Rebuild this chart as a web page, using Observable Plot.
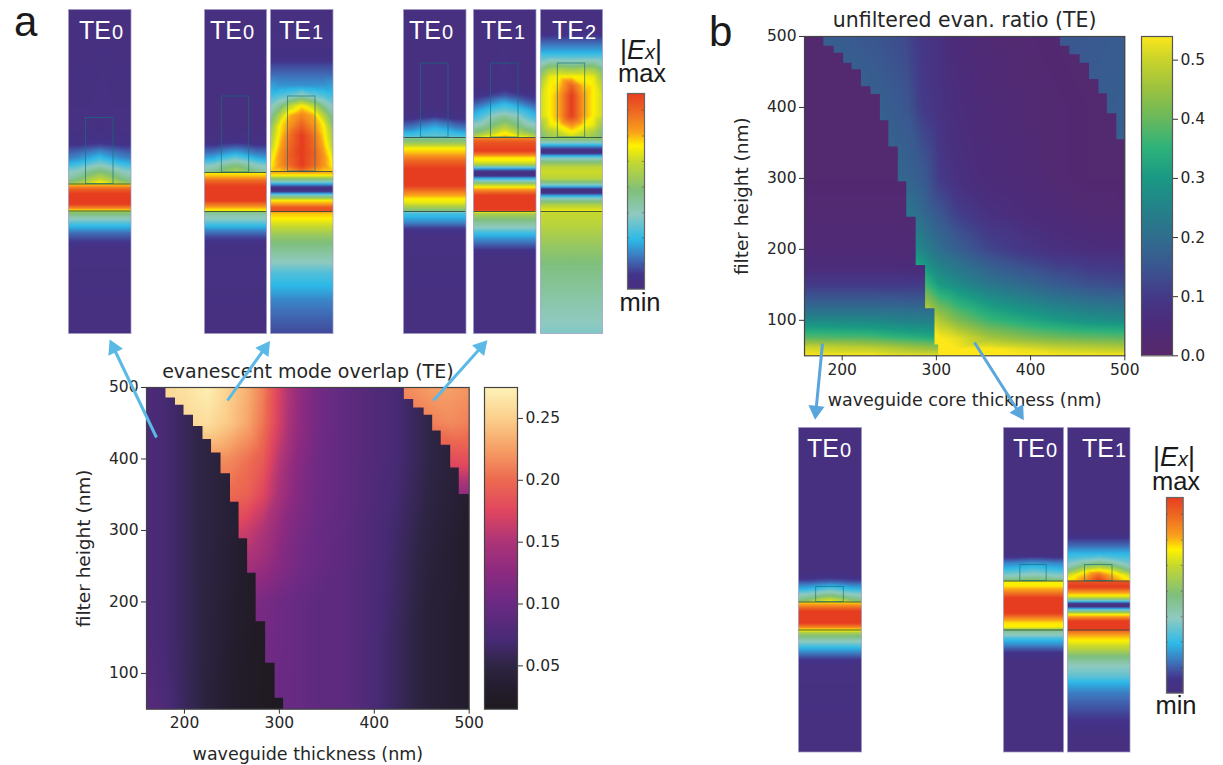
<!DOCTYPE html>
<html><head><meta charset="utf-8">
<script src="https://cdn.jsdelivr.net/npm/d3@7"></script>
<script src="https://cdn.jsdelivr.net/npm/@observablehq/plot@0.6"></script>
<style>
html,body{margin:0;padding:0;background:#fff}
#fig{position:relative;width:1223px;height:765px;overflow:hidden;background:#fff}
#fig svg{position:absolute;background:transparent;overflow:visible}
.t{position:absolute;font-family:"Liberation Sans",Arial,sans-serif;line-height:.8;white-space:nowrap}
</style></head><body><div id="fig"></div>
<script>
// ---------- colour scales
const magmaStops=[.015,.03,.05,.07,.10,.125,.15,.175,.20,.225,.25,.275];
const magmaColors=["#1f1a20","#231c2b","#2e2545","#472a75","#6a2a84","#8c2a80","#ad3477","#e0465f","#ed6a50","#f6a066","#fbd08c","#fdf3b8"];
const viridisStops=[0,.05,.1,.15,.2,.25,.3,.35,.4,.45,.5,.54];
const viridisColors=["#57286a","#4c2b7a","#443a88","#3a5790","#2f6e8e","#238389","#1a9a84","#2eb27a","#6ab85c","#9cc23f","#cbd42b","#fde71a"];
const modeStops=[0,.07,.15,.25,.38,.5,.65,.73,.8,.9,1];
const modeColors=["#47307f","#43338a","#3f6fb8","#2db9e8","#8fcac0","#7fbf7b","#c6d82e","#fff200","#f9a01b","#ee6a22","#e63c20"];
const modeBarTicks=[.915,.783,.653,.521,.39,.262,.128];

// ---------- panel a heat map
const aLowX=[160,178,195,213,231,248,283,305];
const aLowY=[500,300,150,50];
const aLow=[[.075,.07,.062,.052,.046,.04,.03,.025],[.075,.07,.062,.052,.045,.038,.024,.018],[.076,.07,.062,.052,.042,.034,.02,.015],[.085,.076,.064,.052,.04,.032,.018,.015]];
const aMainX=[160,200,224,248,265,283,300,318,339,371,424,460,500];
const aMainY=[500,450,400,350,300,250,200,150,100,50];
const aMain=[
[.25,.262,.272,.25,.235,.21,.17,.135,.108,.09,.07,.05,.035],
[.25,.255,.26,.245,.23,.205,.168,.133,.108,.09,.07,.05,.035],
[.22,.22,.22,.215,.205,.19,.155,.125,.105,.09,.07,.05,.035],
[.2,.2,.2,.2,.195,.175,.145,.12,.103,.09,.068,.048,.033],
[.17,.17,.17,.17,.165,.15,.13,.112,.1,.088,.065,.045,.03],
[.145,.145,.145,.145,.145,.135,.12,.108,.098,.088,.063,.042,.03],
[.125,.125,.125,.125,.12,.11,.103,.097,.09,.088,.062,.04,.03],
[.115,.115,.115,.115,.112,.108,.102,.097,.09,.088,.06,.04,.03],
[.11,.11,.11,.11,.108,.105,.1,.097,.09,.088,.06,.04,.03],
[.108,.108,.108,.108,.108,.105,.1,.097,.09,.088,.06,.04,.03]];
const aUpX=[431,460,480,500];
const aUpY=[500,450,420,390,351];
const aUp=[[.215,.225,.225,.22],[.2,.21,.215,.21],[.19,.195,.195,.195],[.17,.175,.175,.175],[.12,.13,.13,.13]];
const aStairLX=[180,190,199,209,219,228,238,248,257,266,275,285,295,304];
const aStairLY=[500,486,476,462,446,428,409,380,340,289,241,173,115,66,50];
const aStairUX=[431,441,452,461,470,480,489];
const aStairUY=[500,484,472,462,440,420,388,351];

// ---------- panel b heat map
const bLowX=[160,230,305];
const bLowY=[500,300,200,170,150,130,110,90,75,62,50];
const bLow=[[.02,.02,.02],[.02,.02,.02],[.035,.035,.03],[.06,.06,.055],[.1,.1,.1],[.155,.155,.15],[.22,.22,.21],[.31,.3,.27],[.39,.38,.33],[.5,.48,.43],[.54,.54,.52]];
const bMainX=[160,216,241,269,286,304,322,357,392,428,463,500];
const bMainY=[500,400,300,250,200,150,100,75,60,50];
const bMain=[
[.17,.155,.145,.125,.09,.07,.05,.03,.025,.02,.02,.02],
[.18,.18,.17,.15,.1,.075,.06,.04,.03,.025,.02,.02],
[.19,.19,.19,.18,.16,.1,.07,.05,.04,.025,.02,.02],
[.24,.24,.24,.22,.19,.15,.11,.07,.055,.04,.03,.025],
[.3,.3,.3,.28,.25,.2,.17,.12,.09,.07,.06,.055],
[.42,.42,.42,.42,.38,.3,.27,.22,.19,.16,.14,.13],
[.54,.54,.54,.54,.54,.47,.42,.36,.33,.3,.28,.27],
[.54,.54,.54,.54,.54,.54,.52,.46,.43,.41,.4,.39],
[.54,.54,.54,.54,.54,.54,.54,.54,.52,.5,.49,.48],
[.54,.54,.54,.54,.54,.54,.54,.54,.54,.54,.54,.54]];
const bUpX=[431,470,500];
const bUpY=[500,420,355];
const bUp=[[.15,.155,.16],[.155,.16,.165],[.16,.165,.17]];
const bStairLX=[180,191,201,210,220,230,240,249,259,268,278,288,298,302];
const bStairLY=[500,487,477,463,454,430,419,382,345,296,246,178,117,66,50];
const bStairUX=[431,441,452,462,472,481,491];
const bStairUY=[500,487,475,463,440,420,392,355];

// ---------- mode profiles: [row, value] flat, or [row, edge, outer, shoulder, centre] across the panel
const modeAcross=[0,.15,.3,.5,.7,.85,1];
const a0=[[8.5,0],[130,.02,.02,.02,.03],[143,.06,.06,.07,.08],[150,.12,.13,.15,.18],[157,.17,.19,.22,.27],[163,.25,.27,.31,.36],[170,.36,.38,.44,.5],[177,.43,.47,.55,.62],[182.5,.55,.58,.66,.75],[183.5,.76],[188,.92],[193,1],[203,1],[207,.85],[209.5,.73],[211,.55],[216,.42],[222,.3],[226,.24],[232,.15],[240,.08],[250,.02],[332.5,0]];
const a1=[[9,0],[125,0],[140,.02,.02,.03,.04],[147,.1,.1,.12,.14],[153,.16,.17,.2,.24],[158,.22,.24,.29,.34],[165,.36,.38,.44,.5],[171.5,.45,.47,.54,.6],[172.5,.73],[176,.78],[180,.9],[186,1],[200,1],[205,.85],[209,.74],[210.5,.7],[212,.45],[218,.38],[224,.28],[230,.18],[236,.1],[245,.03],[333,0]];
const a2=[[9,0],[55,.03],[65,.1],[75,.15],[85,.22,.2,.2,.2],[95,.27,.3,.33,.4],[105,.36,.45,.62,.73],[115,.45,.62,.78,.85],[125,.52,.73,.82,.92],[135,.58,.75,.88,1],[145,.62,.78,.9,1],[155,.68,.82,.92,1],[165,.72,.82,.9,1],[170.5,.75,.76,.8,.9],[172,.8],[175,.72],[178,.55],[181,.38],[184,.2],[187,.05],[189,.02],[191.5,.1],[194,.3],[196.5,.5],[200,.73],[204,.82],[207,.95],[210.5,.95],[212,.78],[218,.73],[225,.66],[235,.55],[250,.45],[262,.38],[272,.3],[285,.25],[300,.18],[315,.14],[333,.1]];
const a3=[[9,0],[105,0],[115,.03,.03,.04,.06],[122,.1,.11,.14,.17],[128,.17,.18,.22,.25],[133,.25,.26,.28,.3],[136.5,.3,.31,.32,.33],[137.5,.45],[142,.55],[148,.73],[153,.78],[160,.9],[168,1],[185,1],[192,.85],[198,.74],[203,.68],[208,.55],[210.5,.48],[212,.3],[216,.25],[222,.18],[228,.08],[235,.02],[333,0]];
const a4=[[9,0],[85,0,0,.01,.03],[95,.06,.07,.09,.12],[103,.12,.15,.2,.25],[110,.2,.25,.3,.33],[118,.28,.33,.42,.48],[125,.38,.42,.5,.58],[132,.5,.55,.62,.72],[136.5,.62,.7,.73,.78],[137.5,.85],[142,.95],[150,1],[153,.9],[157,.74],[160,.72],[164,.62],[167,.3],[170,.1],[172.5,.02],[175,.04],[178,.25],[181,.4],[184,.62],[187,.74],[190,.85],[195,1],[209,1],[210.5,.95],[212,.62],[216,.55],[222,.45],[227,.38],[232,.28],[238,.2],[245,.12],[252,.04],[262,0],[333,0]];
const a5=[[9,0],[30,.02],[40,.12],[50,.22],[56,.3],[63,.38,.45,.45,.42],[70,.5,.6,.62,.6],[76,.55,.7,.72,.73],[85,.62,.73,.76,.92],[95,.66,.73,.8,1],[115,.66,.73,.8,1],[125,.56,.7,.73,.82],[132,.5,.6,.65,.72],[136.5,.5,.55,.6,.66],[138,.55],[141,.42],[144,.28],[147.5,.12],[150.5,.02],[153,.08],[155.5,.25],[158,.38],[162,.52],[167,.64],[172,.66],[178,.62],[183,.45],[186,.25],[189,.03],[192,.02],[195,.22],[198,.38],[201,.5],[205,.62],[210.5,.7],[212,.65],[225,.62],[245,.55],[270,.48],[300,.42],[333,.36]];
const b0=[[426.5,0],[570,0],[575,.03,.03,.04,.05],[580,.1,.1,.11,.12],[584,.18,.18,.2,.22],[588,.24,.25,.28,.32],[592,.34,.35,.38,.42],[596,.42,.44,.5,.55],[600.5,.5,.55,.66,.73],[601.5,.75],[605,.85],[610,1],[622,1],[626,.85],[628.5,.74],[630,.7],[632,.58],[637,.46],[642,.35],[647,.25],[652,.17],[658,.08],[665,.02],[751,0]];
const b1=[[426.5,0],[553,0],[557,.08,.08,.09,.1],[562,.18,.18,.19,.2],[567,.24,.25,.26,.28],[572,.32,.33,.34,.36],[576.5,.42,.42,.44,.45],[579.5,.5,.5,.53,.55],[580.5,.72],[584,.72],[590,.83],[597,1],[612,1],[618,.82],[622,.74],[626,.73],[628.5,.55],[630,.45],[634,.38],[638,.27],[643,.2],[648,.12],[654,.04],[662,0],[751,0]];
const b2=[[426.5,0],[530,0],[538,.08],[545,.15],[552,.24],[558,.3,.31,.33,.36],[564,.36,.42,.5,.55],[570,.5,.6,.72,.76],[574,.66,.73,.78,.9],[579.5,.74,.78,.85,1],[580.5,.95],[586,1],[590,.85],[594,.74],[597,.62],[600,.3],[603,.02],[605,.02],[608,.25],[610,.45],[613,.7],[616,.82],[620,1],[628.5,1],[630,.9],[634,.8],[640,.72],[648,.62],[655,.5],[665,.38],[675,.32],[681,.25],[692,.17],[705,.12],[722,.06],[735,.01],[751,0]];

// panel layout: profile, left, right, top, bottom, upper interface, lower interface, filter top
const panels=[
 {p:a0,l:67.5,r:130,t:8.5,b:332.5,i1:183,i2:210,f:117,n:"0",tx:79,ty:39},
 {p:a1,l:203.5,r:265.5,t:9,b:333,i1:172,i2:211,f:96,n:"0",tx:210,ty:39},
 {p:a2,l:270,r:332.5,t:9,b:333,i1:171,i2:211,f:96,n:"1",tx:279,ty:39},
 {p:a3,l:403,r:465.5,t:9,b:333,i1:137,i2:211,f:63,n:"0",tx:409,ty:39},
 {p:a4,l:472.5,r:535,t:9,b:333,i1:137,i2:211,f:63,n:"1",tx:481,ty:39},
 {p:a5,l:540,r:602,t:9,b:333,i1:137,i2:211,f:63,n:"2",tx:552,ty:39},
 {p:b0,l:797.5,r:860.5,t:426.5,b:751,i1:601,i2:629,f:586,n:"0",tx:807,ty:457},
 {p:b1,l:1003,r:1063,t:426.5,b:751,i1:580,i2:629,f:564,n:"0",tx:1013,ty:457},
 {p:b2,l:1067,r:1129.5,t:426.5,b:751,i1:580,i2:629,f:564,n:"1",tx:1082,ty:457}
];
const filterWalls=[.28,.72];

// ---------- arrows [tail x, tail y, tip x, tip y] on the page
const arrowsA=[[156,437,111,343],[227,400,267,344],[433,400,484,343]];
const arrowsB=[[822,343,815,415],[974,342,1021,416]];

const fig=document.getElementById("fig");
const SVGNS="http://www.w3.org/2000/svg";
const grid=(xs,ys,rows)=>ys.flatMap((y,j)=>xs.map((x,i)=>({x,y,v:rows[j][i]})));
const stair=(xs,ys)=>xs.flatMap((x,i)=>[[x,ys[i]],[x,ys[i+1]]]);
const put=(plot,left,top)=>{plot.style.left=left+"px";plot.style.top=top+"px";fig.append(plot);return plot;};
const font={fontFamily:"'DejaVu Sans',sans-serif",fontSize:"15px",color:"#262626",background:"transparent"};
const raster=(k)=>Plot.raster(k,{x:"x",y:"y",fill:"v",interpolate:"barycentric",pixelSize:1});

function clip(plot,group,pts,id){
  const sx=plot.scale("x"),sy=plot.scale("y");
  const cp=document.createElementNS(SVGNS,"clipPath");
  cp.setAttribute("id",id);
  const pg=document.createElementNS(SVGNS,"polygon");
  pg.setAttribute("points",pts.map(([x,y])=>sx.apply(x)+","+sy.apply(y)).join(" "));
  cp.append(pg);plot.append(cp);
  group.setAttribute("clip-path","url(#"+id+")");
}

function heat({left,top,w,h,stops,colors,main,low,up,stairL,stairU,title,titleSize,xlabel,id}){
  const ml=76,mt=30,mr=4,mb=54;
  const plot=Plot.plot({width:w+ml+mr,height:h+mt+mb,marginLeft:ml,marginTop:mt,marginRight:mr,marginBottom:mb,style:font,
    x:{domain:[160,500]},y:{domain:[50,500]},
    color:{type:"linear",domain:stops,range:colors,clamp:true},
    marks:[raster(main),raster(low),raster(up),
      Plot.frame({stroke:"#444",strokeWidth:1.2}),
      Plot.axisX({ticks:[200,300,400,500],tickSize:5,tickPadding:3,label:null,stroke:"#333",fontSize:15.5}),
      Plot.axisY({ticks:[100,200,300,400,500],tickSize:5,tickPadding:3,label:null,stroke:"#333",fontSize:15.5}),
      Plot.text([title],{frameAnchor:"top",dy:-16,fontSize:titleSize,lineAnchor:"middle",fill:"#262626"}),
      Plot.text([xlabel],{frameAnchor:"bottom",dy:45,fontSize:17.5,lineAnchor:"middle",fill:"#262626"}),
      Plot.text(["filter height (nm)"],{frameAnchor:"left",dx:-62,rotate:-90,fontSize:18.5,textAnchor:"middle",fill:"#262626"})
    ]});
  const gs=plot.querySelectorAll('g[aria-label="raster"]');
  clip(plot,gs[1],[[160,500],...stair(...stairL),[160,50]],id+"L");
  clip(plot,gs[2],[...stair(...stairU),[500,stairU[1].at(-1)],[500,500]],id+"U");
  const wrap=document.createElementNS(SVGNS,"g");
  wrap.setAttribute("style","filter:blur(0.7px)");
  gs[0].parentNode.insertBefore(wrap,gs[0]);
  wrap.append(gs[0],gs[1],gs[2]);
  put(plot,left-ml,top-mt);
}
heat({left:146,top:387.3,w:322.7,h:321.7,stops:magmaStops,colors:magmaColors,main:grid(aMainX,aMainY,aMain),low:grid(aLowX,aLowY,aLow),up:grid(aUpX,aUpY,aUp),stairL:[aStairLX,aStairLY],stairU:[aStairUX,aStairUY],title:"evanescent mode overlap (TE)",titleSize:19,xlabel:"waveguide thickness (nm)",id:"ca"});
heat({left:804,top:35.7,w:320.3,h:319.3,stops:viridisStops,colors:viridisColors,main:grid(bMainX,bMainY,bMain),low:grid(bLowX,bLowY,bLow),up:grid(bUpX,bUpY,bUp),stairL:[bStairLX,bStairLY],stairU:[bStairUX,bStairUY],title:"unfiltered evan. ratio (TE)",titleSize:20.5,xlabel:"waveguide core thickness (nm)",id:"cb"});

function colorbar({left,top,w,h,domain,stops,colors,ticks,fmt,stroke,axis}){
  const step=(domain[1]-domain[0])/h;
  const ramp=d3.range(domain[0],domain[1],step);
  const plot=Plot.plot({width:w+60,height:h+4,marginLeft:2,marginTop:2,marginRight:58,marginBottom:2,style:font,
    x:{domain:[0,1],axis:null},y:{domain,axis:null},
    color:{type:"linear",domain:stops,range:colors,clamp:true},
    marks:[Plot.rect(ramp,{x1:0,x2:1,y1:d=>d,y2:d=>Math.min(d+step*1.6,domain[1]),fill:d=>d,shapeRendering:"crispEdges"}),
      axis?null:Plot.ruleY(modeBarTicks,{x1:0,x2:.12,stroke:"#333",strokeOpacity:.45}),
      axis?null:Plot.ruleY(modeBarTicks,{x1:.88,x2:1,stroke:"#333",strokeOpacity:.45}),
      Plot.frame({stroke,strokeWidth:1.2}),
      axis?Plot.axisY({anchor:"right",ticks,tickFormat:fmt,tickSize:5,tickPadding:3,label:null,stroke:"#333",fontSize:15.5}):null
    ]});
  put(plot,left-2,top-2);
}
colorbar({left:484.3,top:387.3,w:33,h:321.7,domain:[.015,.275],stops:magmaStops,colors:magmaColors,ticks:[.05,.1,.15,.2,.25],fmt:d3.format(".2f"),stroke:"#444",axis:true});
colorbar({left:1141,top:35.7,w:31,h:319.3,domain:[0,.54],stops:viridisStops,colors:viridisColors,ticks:[0,.1,.2,.3,.4,.5],fmt:d3.format(".1f"),stroke:"#555",axis:true});
colorbar({left:627.3,top:93,w:17,h:195.7,domain:[0,1],stops:modeStops,colors:modeColors,stroke:"#666",axis:false});
colorbar({left:1166,top:497,w:16.7,h:195.7,domain:[0,1],stops:modeStops,colors:modeColors,stroke:"#666",axis:false});

function modePanel(s){
  const w=s.r-s.l,h=s.b-s.t;
  const knots=s.p.flatMap(r=>{
    const vals=r.length===2?[r[1],r[1],r[1],r[1]]:r.slice(1);
    const across=[vals[0],vals[1],vals[2],vals[3],vals[2],vals[1],vals[0]];
    return modeAcross.map((x,i)=>({x,y:r[0],v:across[i]}));
  });
  const plot=Plot.plot({width:w,height:h,margin:0,style:{background:"transparent"},
    x:{domain:[0,1],axis:null},y:{domain:[s.b,s.t],axis:null},
    color:{type:"linear",domain:modeStops,range:modeColors,clamp:true},
    marks:[raster(knots),
      Plot.ruleY([s.i1,s.i2],{stroke:"#2f4a3a",strokeWidth:1,strokeOpacity:.85}),
      Plot.rect([s],{x1:filterWalls[0],x2:filterWalls[1],y1:s.i1,y2:s.f,stroke:"#14707f",strokeOpacity:.65,strokeWidth:1,fill:"none"}),
      Plot.frame({stroke:"#9c98c4",strokeWidth:1,strokeOpacity:.7})
    ]});
  put(plot,s.l,s.t);
  text(`TE<span style="font-size:20px;font-weight:300;margin-left:1px">${s.n}</span>`,s.tx,s.ty,25,"#fff");
}
function text(html,x,base,size,color="#1a1a1a",center=false){
  const d=document.createElement("div");d.className="t";d.innerHTML=html;
  d.style.left=x+"px";d.style.top=(base-.7465*size)+"px";d.style.fontSize=size+"px";d.style.color=color;
  if(center)d.style.transform="translateX(-50%)";
  fig.append(d);
}
panels.forEach(modePanel);

const Ex='|<i>E</i><span style="font-size:20px;font-style:italic">x</span>|';
text("a",14,36,42);text("b",709,46,42);
text(Ex,620,60,27);text("max",642,82,25.5,"#1a1a1a",true);text("min",640,311,25.5,"#1a1a1a",true);
text(Ex,1153,467,27);text("max",1176,490,25.5,"#1a1a1a",true);text("min",1176,714,25.5,"#1a1a1a",true);

// arrows overlay
function arrows(list,color){
  const rows=list.map(([x1,y1,x2,y2])=>{const L=Math.hypot(x2-x1,y2-y1);const ux=(x2-x1)/L,uy=(y2-y1)/L;
    return {x1,y1,x2,y2,hx:x2-ux*5,hy:y2-uy*5,a:Math.atan2(ux,-uy)*180/Math.PI};});
  const plot=Plot.plot({width:1223,height:765,margin:0,style:{background:"transparent"},
    x:{domain:[0,1223],axis:null},y:{domain:[765,0],axis:null},
    marks:[Plot.link(rows,{x1:"x1",y1:"y1",x2:"hx",y2:"hy",stroke:color,strokeWidth:3}),
      Plot.dot(rows,{x:"hx",y:"hy",r:6,symbol:"triangle",rotate:"a",fill:color,stroke:"none"})]});
  put(plot,0,0);
}
arrows(arrowsA,"#5ab9e6");
arrows(arrowsB,"#5aa5dc");
</script></body></html>
